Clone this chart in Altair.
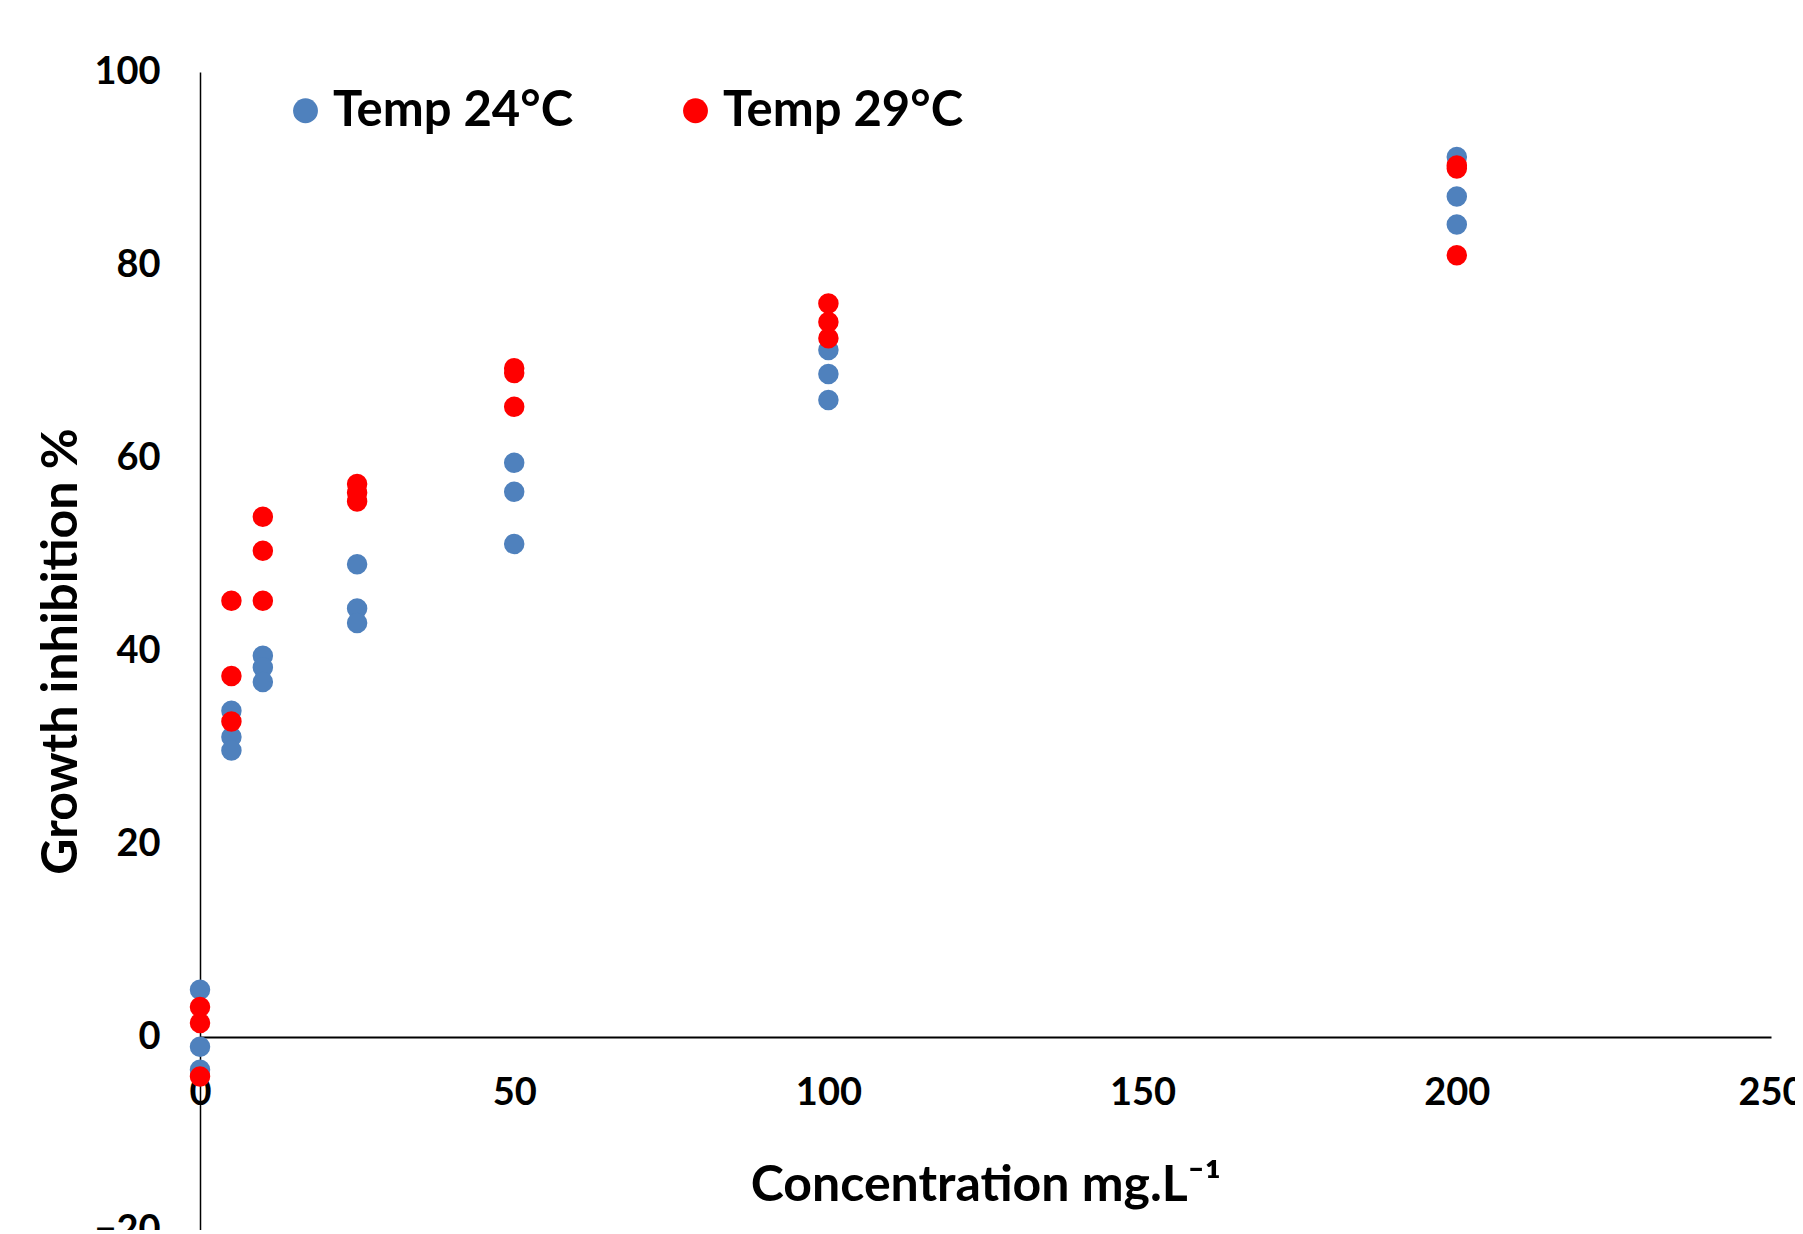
import altair as alt
import pandas as pd

# Concentration (mg/L) and growth inhibition (%)
conc_24 = [0, 0, 0, 5, 5, 5, 10, 10, 10, 25, 25, 25, 50, 50, 50, 100, 100, 100, 200, 200, 200]
inhib_24 = [4.9, -1.0, -3.4, 33.8, 31.1, 29.7, 39.5, 38.3, 36.8, 49.0, 44.4, 42.9,
            59.5, 56.5, 51.1, 71.2, 68.7, 66.0, 91.2, 87.1, 84.2]

conc_29 = [0, 0, 0, 5, 5, 5, 10, 10, 10, 25, 25, 25, 50, 50, 50, 100, 100, 100, 200, 200, 200]
inhib_29 = [3.1, 1.45, -4.1, 45.2, 37.4, 32.7, 53.9, 50.4, 45.2, 57.3, 56.4, 55.5,
            69.3, 68.8, 65.3, 76.0, 74.1, 72.4, 90.3, 90.0, 81.0]

series_names = ["Temp 24°C", "Temp 29°C"]
series_colors = ["#4F81BD", "#FF0000"]

x_ticks = [0, 50, 100, 150, 200, 250]
y_ticks = [-20, 0, 20, 40, 60, 80, 100]

df = pd.concat([
    pd.DataFrame({"conc": conc_24, "inhib": inhib_24, "series": series_names[0], "ord": 0}),
    pd.DataFrame({"conc": conc_29, "inhib": inhib_29, "series": series_names[1], "ord": 1}),
], ignore_index=True)

FONT = "Lato"
W, H = 1571, 1158

chart = alt.Chart(df).mark_point(filled=True, opacity=1, size=420, shape="circle").encode(
    x=alt.X("conc:Q",
            scale=alt.Scale(domain=[0, 250], nice=False, zero=False),
            axis=alt.Axis(values=x_ticks, title="Concentration mg.L⁻¹", grid=False,
                          ticks=False, tickSize=0, offset=-H * 20 / 120,
                          domainColor="black", domainWidth=2,
                          labelFont=FONT, labelFontSize=38, labelFontWeight="bold",
                          labelColor="black", labelPadding=37, labelFlush=False,
                          titleFont=FONT, titleFontSize=50, titleFontWeight="bold",
                          titleColor="black", titleX=W / 2, titleY=163,
                          titleBaseline="alphabetic", titleAlign="center")),
    y=alt.Y("inhib:Q",
            scale=alt.Scale(domain=[-20, 100], nice=False, zero=False),
            axis=alt.Axis(values=y_ticks, title="Growth inhibition %", grid=False,
                          ticks=False, tickSize=0, format="d",
                          domainColor="black", domainWidth=1.5,
                          labelFont=FONT, labelFontSize=38, labelFontWeight="bold",
                          labelColor="black", labelPadding=40, labelFlush=False,
                          titleFont=FONT, titleFontSize=50, titleFontWeight="bold",
                          titleColor="black", titleX=-124, titleY=H / 2,
                          titleAngle=-90, titleBaseline="alphabetic", titleAlign="center")),
    color=alt.Color("series:N",
                    scale=alt.Scale(domain=series_names, range=series_colors),
                    legend=alt.Legend(title=None, orient="none", legendX=81, legendY=14,
                                      direction="horizontal", columnPadding=97,
                                      labelOffset=3, padding=0,
                                      symbolType="circle", symbolSize=620,
                                      symbolStrokeWidth=0,
                                      labelFont=FONT, labelFontSize=49,
                                      labelFontWeight="bold", labelColor="black",
                                      labelLimit=400)),
    order=alt.Order("ord:Q"),
).properties(
    width=W, height=H,
    background="white",
    autosize=alt.AutoSizeParams(type="none"),
    padding={"left": 192, "top": 64, "right": 24, "bottom": 0},
).configure_view(strokeWidth=0, stroke=None)

chart.save("out.html", embed_options={"renderer": "svg", "actions": False})
